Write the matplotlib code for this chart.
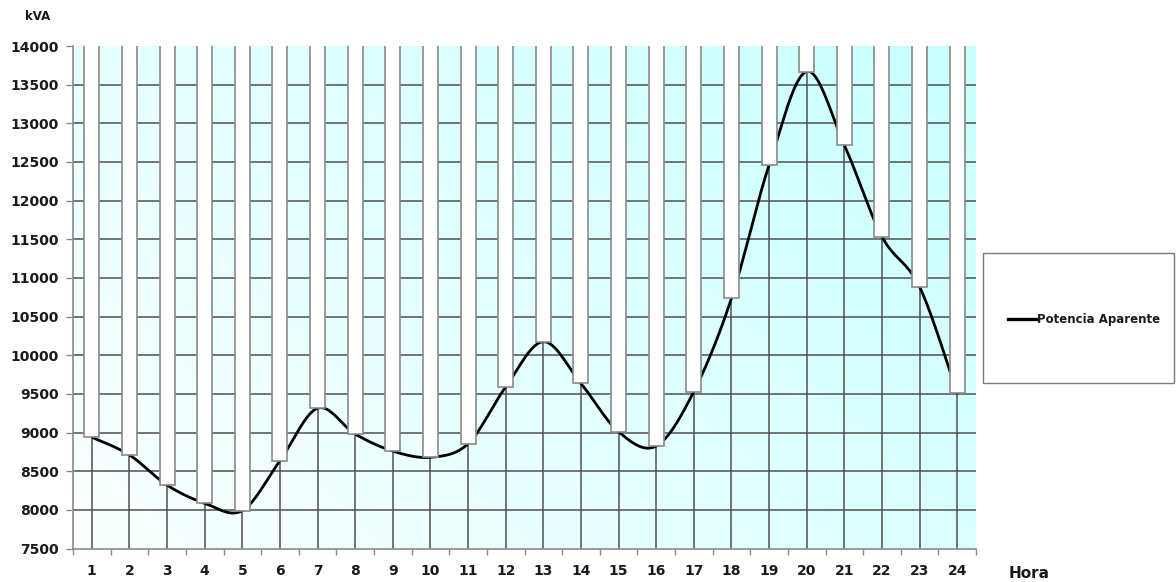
import numpy as np
import matplotlib
matplotlib.use("Agg")
import matplotlib.pyplot as plt
from matplotlib.colors import LinearSegmentedColormap
from matplotlib.patches import Rectangle
from matplotlib.lines import Line2D

# Hourly apparent power (kVA)
hours = list(range(1, 25))
potencia_aparente = [8940, 8710, 8320, 8085, 7990, 8635, 9315, 8980, 8760, 8680,
                     8855, 9590, 10175, 9635, 9010, 8825, 9530, 10735, 12460, 13670,
                     12720, 11535, 10885, 9510]
y_ticks = list(range(7500, 14001, 500))
series_label = "Potencia Aparente"

plt.rcParams["font.family"] = ["DejaVu Sans"]
text_color = "#1a1a1a"

fig = plt.figure(figsize=(11.76, 5.82), dpi=100)
ax = fig.add_axes([73 / 1176, 1 - 548.5 / 582, (976 - 73) / 1176, (548.5 - 46) / 582])

ymin, ymax = y_ticks[0], y_ticks[-1]
ax.set_xlim(0.5, 24.5)
ax.set_ylim(ymin, ymax)

# diagonal white -> light cyan background
cmap = LinearSegmentedColormap.from_list("bg", ["#fbffff", "#c8ffff"])
gx, gy = np.meshgrid(np.linspace(0, 1, 200), np.linspace(0, 1, 200))
grad = 0.62 * gx + 0.38 * gy
ax.imshow(grad, cmap=cmap, extent=[0.5, 24.5, ymin, ymax], origin="lower",
          aspect="auto", zorder=0, vmin=0, vmax=1)

# grid: vertical at each hour, horizontal at each 500 kVA
grid_kw = dict(color="#505050", lw=1.1, zorder=1)
ax.vlines(hours, ymin, ymax, **grid_kw)
ax.hlines(y_ticks[1:-1], 0.5, 24.5, **grid_kw)

# smoothed curve (Catmull-Rom through the hourly points)
x = np.array(hours, dtype=float)
y = np.array(potencia_aparente, dtype=float)
px = np.concatenate([[x[0]], x, [x[-1]]])
py = np.concatenate([[y[0]], y, [y[-1]]])
sx, sy = [], []
t = np.linspace(0, 1, 40)
h00 = 2 * t**3 - 3 * t**2 + 1
h10 = t**3 - 2 * t**2 + t
h01 = -2 * t**3 + 3 * t**2
h11 = t**3 - t**2
for i in range(1, len(px) - 2):
    m1x, m2x = (px[i + 1] - px[i - 1]) / 2, (px[i + 2] - px[i]) / 2
    m1y, m2y = (py[i + 1] - py[i - 1]) / 2, (py[i + 2] - py[i]) / 2
    sx.append(h00 * px[i] + h10 * m1x + h01 * px[i + 1] + h11 * m2x)
    sy.append(h00 * py[i] + h10 * m1y + h01 * py[i + 1] + h11 * m2y)
sx = np.concatenate(sx)
sy = np.concatenate(sy)
ax.plot(sx, sy, color="black", lw=2.0, zorder=2, solid_capstyle="round")

# white bars hanging from the top of the plot down to each value
bar_top = ymax + 200
ax.bar(hours, [bar_top - v for v in potencia_aparente], bottom=potencia_aparente,
       width=0.4, color="white", edgecolor="#8a8a8a", lw=1.2, zorder=3)

# axes styling
for side in ("top", "right"):
    ax.spines[side].set_visible(False)
for side in ("left", "bottom"):
    ax.spines[side].set_color("#8a8a8a")
    ax.spines[side].set_linewidth(1.2)
    ax.spines[side].set_zorder(4)

ax.set_yticks(y_ticks)
ax.set_yticklabels([str(v) for v in y_ticks], fontsize=10, fontweight="bold", color=text_color)
ax.tick_params(axis="y", direction="out", length=5, width=1, color="#8a8a8a", pad=5)

ax.set_xticks(np.arange(0.5, 25, 1))
ax.set_xticklabels([])
ax.tick_params(axis="x", which="major", direction="out", length=4, width=1, color="#8a8a8a")
ax.set_xticks(hours, minor=True)
ax.set_xticklabels([str(h) for h in hours], minor=True, fontsize=10,
                   fontweight="bold", color=text_color)
ax.tick_params(axis="x", which="minor", length=0, pad=11)

fig.text(38 / 1176, 1 - 17 / 582, "kVA", fontsize=8.5, fontweight="bold",
         ha="center", va="center", color=text_color)
fig.text(1029 / 1176, 1 - 574 / 582, "Hora", fontsize=11, fontweight="bold",
         ha="center", va="center", color=text_color)

# legend box
fig.patches.append(Rectangle((983 / 1176, 1 - 383 / 582), (1174 - 983) / 1176, (383 - 253) / 582,
                             transform=fig.transFigure, facecolor="white",
                             edgecolor="#7a7a7a", lw=1.0))
fig.lines.append(Line2D([1008 / 1176, 1037 / 1176], [1 - 319 / 582, 1 - 319 / 582],
                        transform=fig.transFigure, color="black", lw=2.4))
fig.text(1037 / 1176, 1 - 319 / 582, series_label, fontsize=8.5, fontweight="bold",
         ha="left", va="center", color=text_color)

fig.savefig("out.png", dpi=100, facecolor="white")
